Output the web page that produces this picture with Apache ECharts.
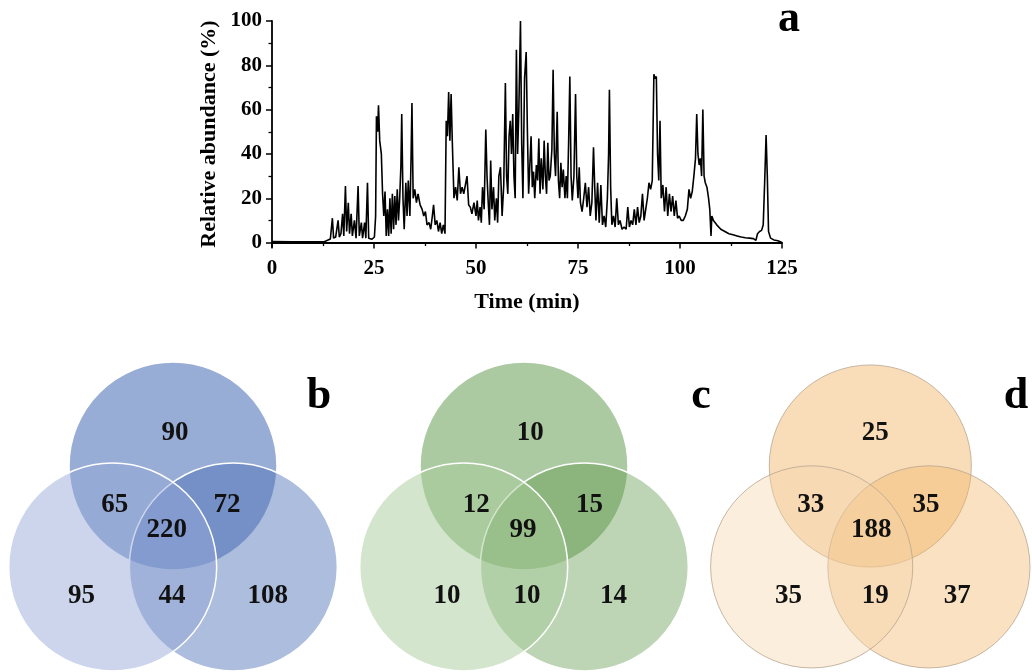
<!DOCTYPE html>
<html>
<head>
<meta charset="utf-8">
<title>Chromatogram and Venn diagrams</title>
<script src="https://cdn.jsdelivr.net/npm/echarts@6/dist/echarts.min.js"></script>
<style>
  html, body { margin: 0; padding: 0; background: #fff; }
  #main { width: 1032px; height: 672px; }
</style>
</head>
<body>
<div id="main"></div>
<script>
// chromatogram (a): [time (min), relative abundance (%)]
var tic = [
  [0,0.5],[5,0.4],[10,0.3],[12.8,0.4],[13.2,1.3],[14.3,1.6],[14.6,1.8],[14.8,11],[15.1,2],[15.6,2.5],
  [16.2,10],[16.5,2.5],[16.9,4],[17.3,13],[17.6,3],[18,25.5],[18.3,5],[18.7,18],[19,4],[19.4,13],
  [19.7,3],[20.2,10],[20.6,2],[21.1,25.5],[21.4,3],[21.9,9],[22.2,2],[22.7,9],[23,2],[23.4,27],
  [23.7,2],[24.5,1.5],[25.1,2.5],[25.4,12],[25.6,57],[25.9,50],[26.1,62],[26.4,46],[26.8,40],[27.1,22],
  [27.4,12],[27.7,23],[28,3],[28.3,15],[28.6,3],[28.9,20],[29.2,4],[29.5,22],[29.8,6],[30.1,21],
  [30.4,8],[30.7,24],[31,10],[31.3,20],[31.6,35],[31.8,58],[32.1,20],[32.4,6],[32.8,27],[33.1,12],
  [33.4,28],[33.8,12],[34.1,40],[34.3,63],[34.6,20],[35,24],[35.4,18],[35.8,22],[36.3,17],[36.8,15],
  [37.2,12],[37.6,14],[38,8],[38.5,9],[38.9,6],[39.3,12],[39.6,17],[40,8],[40.4,10],[40.8,5],
  [41.2,9],[41.6,4],[42,8],[42.4,4],[42.7,55],[43,48],[43.3,68],[43.6,46],[43.9,67],[44.2,45],
  [44.6,20],[45,25],[45.4,19],[45.8,34],[46.2,22],[46.6,25],[47,22],[47.5,27],[47.8,30],[48.2,17],
  [48.6,16],[49,13],[49.5,18],[50,12],[50.3,19],[50.6,10],[51,16],[51.3,9],[51.6,25],[52,15],
  [52.4,51],[52.7,30],[53,18],[53.3,8],[53.6,37],[53.9,15],[54.3,25],[54.6,10],[55,20],[55.3,9],
  [55.6,30],[56,34],[56.4,12],[56.8,26],[57.2,72],[57.5,30],[57.8,22],[58.1,48],[58.4,55],[58.7,40],
  [59,58],[59.3,30],[59.6,20],[59.9,87],[60.2,40],[60.5,60],[60.9,100],[61.2,45],[61.5,20],[61.9,74],
  [62.3,86],[62.6,50],[62.9,22],[63.2,35],[63.5,48],[63.8,25],[64.1,32],[64.4,20],[64.8,35],[65.1,28],
  [65.4,47],[65.7,22],[66,38],[66.4,24],[66.7,46],[67,30],[67.3,22],[67.6,45],[67.9,28],[68.2,30],
  [68.6,42],[68.9,78],[69.2,40],[69.5,30],[69.9,59],[70.2,28],[70.5,20],[70.8,36],[71.1,25],[71.4,33],
  [71.8,20],[72.1,30],[72.4,20],[72.7,45],[73,75],[73.3,30],[73.6,19],[74,30],[74.4,67],[74.7,30],
  [75,20],[75.3,34],[75.6,18],[76,14],[76.4,20],[76.8,27],[77.2,16],[77.6,25],[78,12],[78.4,18],
  [78.8,43],[79.1,25],[79.4,10],[79.8,27],[80.2,9],[80.6,26],[81,8],[81.4,12],[81.8,7],[82.2,20],
  [82.5,40],[82.7,69],[83,25],[83.3,8],[83.7,12],[84.1,7],[84.5,20],[84.9,8],[85.3,10],[85.8,6],
  [86.3,7],[86.8,6],[87.2,16],[87.6,7],[88,10],[88.4,8],[88.8,15],[89.2,8],[89.6,16],[90,9],
  [90.4,12],[90.8,22],[91.2,10],[91.6,15],[92,20],[92.4,27],[92.8,24],[93.2,28],[93.6,76],[93.9,74],
  [94.2,75],[94.5,40],[94.8,28],[95.1,55],[95.4,20],[95.8,26],[96.2,14],[96.6,25],[97,12],[97.4,22],
  [97.8,14],[98.2,21],[98.6,12],[99,19],[99.4,11],[99.8,12],[100.3,10],[100.8,10],[101.3,12],[101.8,15],
  [102.2,24],[102.6,20],[103,23],[103.4,30],[103.8,38],[104.1,58],[104.4,40],[104.7,35],[105,38],[105.3,30],
  [105.6,60],[105.9,30],[106.2,27],[106.6,25],[107,20],[107.3,15],[107.6,3],[107.8,12],[108.2,10],[109,8],
  [110,6],[111,5],[112,4],[113,3.5],[114,3],[115,2.5],[116,2.2],[117,2],[118,1.8],[118.6,1],
  [119,4],[119.5,5],[120,5.5],[120.4,8],[120.8,30],[121.1,48.5],[121.4,30],[121.7,5],[122.2,2],[123,1.2],
  [124,0.8],[125,0]
];
var timeTicks = [0, 25, 50, 75, 100, 125];
var abundanceTicks = [0, 20, 40, 60, 80, 100];
var abundanceMinorTicks = [10, 30, 50, 70, 90];

// venn circles, drawn in this order: top, bottom-right, bottom-left (unit = circle radius)
var circleX = [0, 0.58, -0.58];
var circleY = [0.65, -0.32, -0.32];
var circleR = [1, 1, 1];

// region counts: top only, top&left, top&right, all three, left only, left&right, right only
var countsB = [90, 65, 72, 220, 95, 44, 108];
var countsC = [10, 12, 15, 99, 10, 10, 14];
var countsD = [25, 33, 35, 188, 35, 19, 37];
var labelXB = [0.02, -0.56, 0.52, -0.06, -0.88, -0.01, 0.91];
var labelXC = [0.06, -0.46, 0.63, -0.01, -0.74, 0.03, 0.86];
var labelXD = [0.05, -0.59, 0.55, 0.01, -0.81, 0.05, 0.86];
var labelY = [0.97, 0.27, 0.27, 0.03, -0.60, -0.60, -0.60];

var serif = '"Liberation Serif", "Times New Roman", serif';

var panels = [
  { counts: countsB, lx: labelXB, cx: 173, letter: 'b', lcx: 319,
    fills: ['#4a6fb5', '#4a6fb5', '#94a8d8'], alphas: [0.57, 0.46, 0.48], stroke: '#ffffff', strokeW: 1.5 },
  { counts: countsC, lx: labelXC, cx: 524, letter: 'c', lcx: 701,
    fills: ['#5a9646', '#5a9646', '#a8cc9a'], alphas: [0.5, 0.4, 0.5], stroke: '#ffffff', strokeW: 1.5 },
  { counts: countsD, lx: labelXD, cx: 875, letter: 'd', lcx: 1016,
    fills: ['#f2b464', '#f2b464', '#f6d4aa'], alphas: [0.45, 0.4, 0.4], stroke: '#b8a690', strokeW: 0.8 }
];

var myChart = echarts.init(document.getElementById('main'), null, { renderer: 'canvas' });

var unit = 104;
var vennTop = 1.6, vennBottom = -1.3308;
var grids = [{ left: 272, top: 21, width: 510, height: 226 }];
var xAxes = [{
  type: 'value', gridIndex: 0, min: 0, max: 125, interval: 25,
  name: 'Time (min)', nameLocation: 'middle', nameGap: 44,
  nameTextStyle: { fontFamily: serif, fontWeight: 'bold', fontSize: 22, color: '#000' },
  axisLine: { lineStyle: { color: '#000', width: 1.8 } },
  axisTick: { length: 6, lineStyle: { color: '#000', width: 1.5 } },
  minorTick: { show: true, splitNumber: 2, length: 3.5, lineStyle: { color: '#000', width: 1.3 } },
  axisLabel: { margin: 11, fontFamily: serif, fontWeight: 'bold', fontSize: 21, color: '#000',
    customValues: timeTicks },
  splitLine: { show: false }, minorSplitLine: { show: false }
}];
var yAxes = [{
  type: 'value', gridIndex: 0, min: -2, max: 100,
  name: 'Relative abundance (%)', nameLocation: 'middle', nameGap: 52, nameRotate: 90,
  nameTextStyle: { fontFamily: serif, fontWeight: 'bold', fontSize: 22, color: '#000' },
  axisLine: { show: true, lineStyle: { color: '#000', width: 1.8 } },
  axisTick: { show: true, length: 6, lineStyle: { color: '#000', width: 1.5 }, customValues: abundanceTicks },
  axisLabel: { margin: 10, fontFamily: serif, fontWeight: 'bold', fontSize: 21, color: '#000',
    customValues: abundanceTicks },
  splitLine: { show: false }
}, {
  type: 'value', gridIndex: 0, min: -2, max: 100, position: 'left',
  axisLine: { show: false },
  axisTick: { show: true, length: 3.5, lineStyle: { color: '#000', width: 1.3 }, customValues: abundanceMinorTicks },
  axisLabel: { show: false },
  splitLine: { show: false }
}];

var series = [{
  type: 'line', xAxisIndex: 0, yAxisIndex: 0,
  data: tic, showSymbol: false, symbol: 'none',
  lineStyle: { color: '#000', width: 1.6 },
  animation: false
}];

var graphics = [{
  type: 'text', x: 789, y: 20,
  style: { text: 'a', font: 'bold 44px ' + serif, fill: '#000', align: 'center', verticalAlign: 'middle' }
}];

panels.forEach(function (p, i) {
  var gi = i + 1;
  // grid kept inside the canvas, 1 unit = 104 px on both axes
  grids.push({ left: p.cx - 1.6 * unit, top: 533.6 - vennTop * unit,
    width: 3.2 * unit, height: (vennTop - vennBottom) * unit });
  xAxes.push({ type: 'value', gridIndex: gi, min: -1.6, max: 1.6, show: false });
  yAxes.push({ type: 'value', gridIndex: gi, min: vennBottom, max: vennTop, show: false });

  var circles = circleX.map(function (x, k) { return [x, circleY[k], circleR[k]]; });
  series.push({
    type: 'custom', xAxisIndex: gi, yAxisIndex: gi + 1, z: 2,
    data: circles, animation: false, silent: true,
    renderItem: function (params, api) {
      var c = api.coord([api.value(0), api.value(1)]);
      var s = api.size([api.value(2), api.value(2)]);
      var k = params.dataIndex;
      return {
        type: 'circle',
        shape: { cx: c[0], cy: c[1], r: s[0] },
        style: { fill: echarts.color.modifyAlpha(p.fills[k], p.alphas[k]),
          stroke: p.stroke, lineWidth: p.strokeW }
      };
    }
  });

  var labels = p.counts.map(function (n, k) { return [p.lx[k], labelY[k], n]; });
  series.push({
    type: 'custom', xAxisIndex: gi, yAxisIndex: gi + 1, z: 3,
    data: labels, animation: false, silent: true,
    renderItem: function (params, api) {
      var c = api.coord([api.value(0), api.value(1)]);
      return {
        type: 'text', x: c[0], y: c[1],
        style: { text: String(api.value(2)), font: 'bold 27px ' + serif, fill: '#111',
          align: 'center', verticalAlign: 'middle' }
      };
    }
  });

  graphics.push({
    type: 'text', x: p.lcx, y: 397,
    style: { text: p.letter, font: 'bold 44px ' + serif, fill: '#000', align: 'center', verticalAlign: 'middle' }
  });
});

var option = {
  backgroundColor: '#fff',
  animation: false,
  grid: grids,
  xAxis: xAxes,
  yAxis: yAxes,
  series: series,
  graphic: graphics
};

myChart.setOption(option);
</script>
</body>
</html>
